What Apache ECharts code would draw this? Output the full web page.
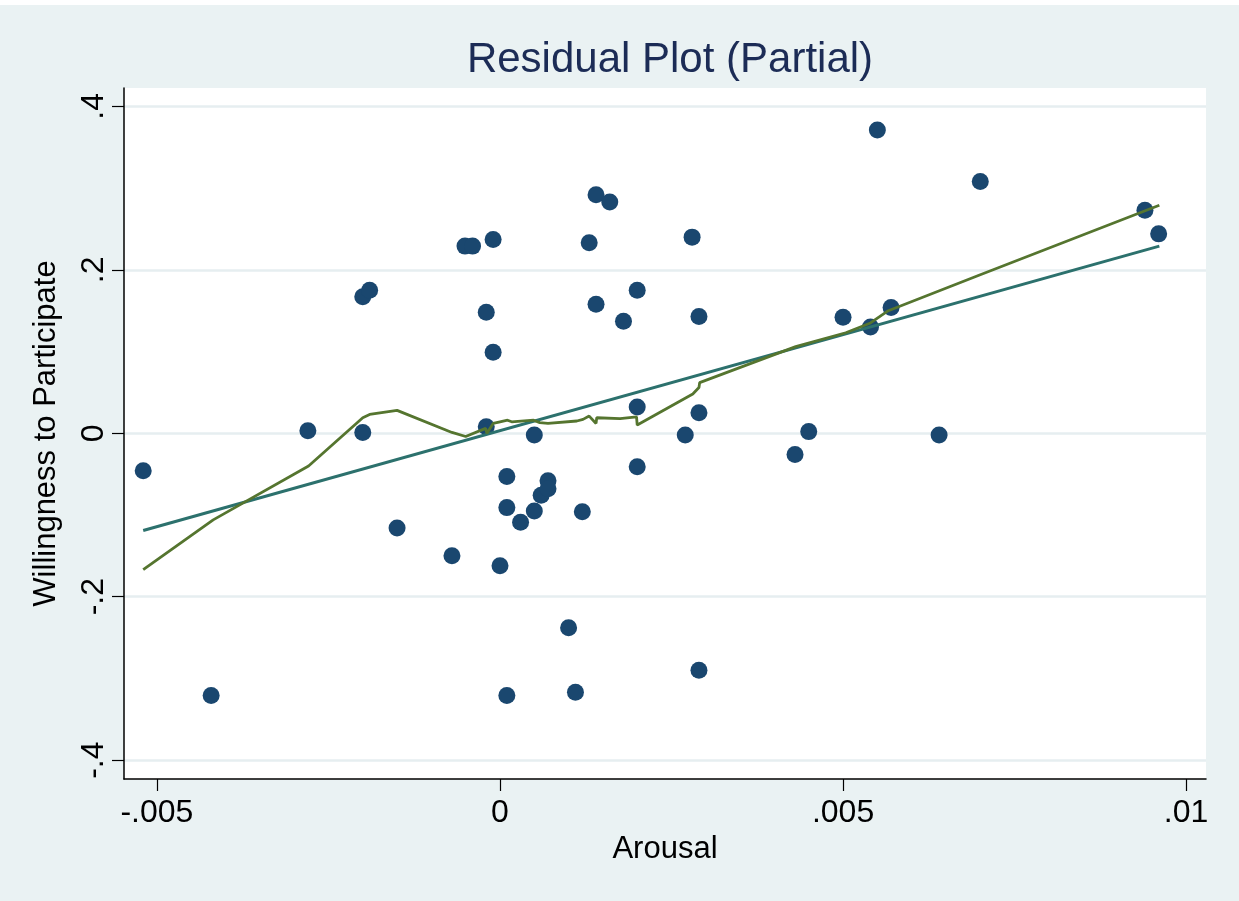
<!DOCTYPE html>
<html>
<head>
<meta charset="utf-8">
<title>Residual Plot (Partial)</title>
<script src="https://cdn.jsdelivr.net/npm/echarts@6/dist/echarts.min.js"></script>
<style>
  html, body { margin: 0; padding: 0; background: #EAF2F3; }
  #chart { width: 1239px; height: 901px; }
</style>
</head>
<body>
<div id="chart"></div>
<script>
// scatter points (Arousal residual, Willingness residual)
var arousal = [
  -0.00520, -0.00421, -0.00280, -0.00200, -0.00190, -0.00200, -0.00150, -0.00070,
  -0.00051, -0.00040, -0.00010, -0.00020, -0.00010, -0.00020, 0.00000, 0.00010,
  0.00010, 0.00010, 0.00030, 0.00050, 0.00050, 0.00060, 0.00070, 0.00070,
  0.00100, 0.00110, 0.00120, 0.00130, 0.00140, 0.00160, 0.00140, 0.00180,
  0.00200, 0.00200, 0.00200, 0.00270, 0.00280, 0.00290, 0.00290, 0.00290,
  0.00430, 0.00450, 0.00500, 0.00540, 0.00550, 0.00570, 0.00640, 0.00700,
  0.00940, 0.00960
];
var willingness = [
  -0.046, -0.321, 0.003, 0.167, 0.175, 0.001, -0.116, -0.150,
  0.229, 0.229, 0.237, 0.148, 0.099, 0.008, -0.162, -0.053,
  -0.091, -0.321, -0.109, -0.002, -0.095, -0.076, -0.058, -0.068,
  -0.238, -0.317, -0.096, 0.233, 0.292, 0.283, 0.158, 0.137,
  0.175, 0.032, -0.041, -0.002, 0.240, 0.143, 0.025, -0.290,
  -0.026, 0.002, 0.142, 0.130, 0.371, 0.154, -0.002, 0.308,
  0.273, 0.244
];

// linear fit line
var fitX = [-0.00520, 0.00961];
var fitY = [-0.119, 0.229];

// lowess smoother
var lowessX = [
  -0.00520, -0.00418, -0.00279, -0.00200, -0.00190, -0.00150, -0.00070, -0.00050,
  -0.00021, -0.00019, -0.00010, 0.00000, 0.00011, 0.00017, 0.00049, 0.00058,
  0.00070, 0.00112, 0.00121, 0.00130, 0.00140, 0.00141, 0.00175, 0.00199,
  0.00200, 0.00281, 0.00290, 0.00291, 0.00431, 0.00504, 0.00540, 0.00566,
  0.00700, 0.00961
];
var lowessY = [
  -0.167, -0.106, -0.040, 0.019, 0.023, 0.028, 0.001, -0.004,
  0.006, 0.000, 0.012, 0.014, 0.016, 0.014, 0.016, 0.013,
  0.012, 0.015, 0.017, 0.021, 0.012, 0.019, 0.018, 0.020,
  0.010, 0.048, 0.056, 0.062, 0.106, 0.123, 0.135, 0.150,
  0.194, 0.279
];

// axis ticks
var xTicks = [-0.005, 0, 0.005, 0.01];
var xTickLabels = ['-.005', '0', '.005', '.01'];
var yTicks = [-0.4, -0.2, 0, 0.2, 0.4];
var yTickLabels = ['-.4', '-.2', '0', '.2', '.4'];

function zip(a, b) {
  var out = [];
  for (var i = 0; i < a.length; i++) out.push([a[i], b[i]]);
  return out;
}
function labelFor(ticks, labels) {
  return function (v) {
    for (var i = 0; i < ticks.length; i++) {
      if (Math.abs(ticks[i] - v) < 1e-9) return labels[i];
    }
    return '';
  };
}

var font = 'Liberation Sans, Arial, sans-serif';
var myChart = echarts.init(document.getElementById('chart'));

var option = {
  backgroundColor: '#EAF2F3',
  animation: false,
  title: {
    text: 'Residual Plot (Partial)',
    left: 665,
    top: 34,
    textAlign: 'center',
    textStyle: { color: '#1C2C56', fontSize: 42, fontWeight: 'normal', fontFamily: font }
  },
  graphic: [
    { type: 'rect', left: 0, top: 0, shape: { width: 1239, height: 5 }, style: { fill: '#fff' } }
  ],
  grid: {
    left: 124,
    right: 33,
    top: 88,
    bottom: 122,
    show: true,
    backgroundColor: '#fff',
    borderWidth: 0
  },
  xAxis: {
    type: 'value',
    min: -0.00548,
    max: 0.01029,
    name: 'Arousal',
    nameLocation: 'middle',
    nameGap: 53,
    nameTextStyle: { color: '#000', fontSize: 31, fontFamily: font },
    axisLine: { show: true, onZero: false, lineStyle: { color: '#000', width: 1.5 } },
    axisTick: { show: true, length: 12, customValues: xTicks, lineStyle: { color: '#000', width: 1.2 } },
    axisLabel: {
      customValues: xTicks,
      formatter: labelFor(xTicks, xTickLabels),
      margin: 18,
      color: '#000',
      fontSize: 32,
      fontFamily: font
    },
    splitLine: { show: false }
  },
  yAxis: {
    type: 'value',
    min: -0.4231,
    max: 0.4225,
    name: 'Willingness to Participate',
    nameLocation: 'middle',
    nameGap: 62,
    nameRotate: 90,
    nameTextStyle: { color: '#000', fontSize: 31, fontFamily: font },
    axisLine: { show: true, onZero: false, lineStyle: { color: '#000', width: 1.5 } },
    axisTick: { show: true, length: 12, customValues: yTicks, lineStyle: { color: '#000', width: 1.2 } },
    axisLabel: {
      customValues: yTicks,
      formatter: labelFor(yTicks, yTickLabels),
      rotate: 90,
      margin: 14,
      color: '#000',
      fontSize: 32,
      fontFamily: font
    },
    splitLine: { show: true, lineStyle: { color: '#E6EEF0', width: 2.5 } }
  },
  series: [
    {
      name: 'residuals',
      type: 'scatter',
      symbol: 'circle',
      symbolSize: 17,
      itemStyle: { color: '#1A476F', opacity: 1 },
      data: zip(arousal, willingness),
      z: 2
    },
    {
      name: 'linear fit',
      type: 'line',
      showSymbol: false,
      lineStyle: { color: '#2C716D', width: 3 },
      data: zip(fitX, fitY),
      z: 3
    },
    {
      name: 'lowess',
      type: 'line',
      showSymbol: false,
      lineStyle: { color: '#55752F', width: 2.8 },
      data: zip(lowessX, lowessY),
      z: 4
    }
  ]
};

myChart.setOption(option);
window.onresize = function () {
  myChart.resize();
};
</script>
</body>
</html>
